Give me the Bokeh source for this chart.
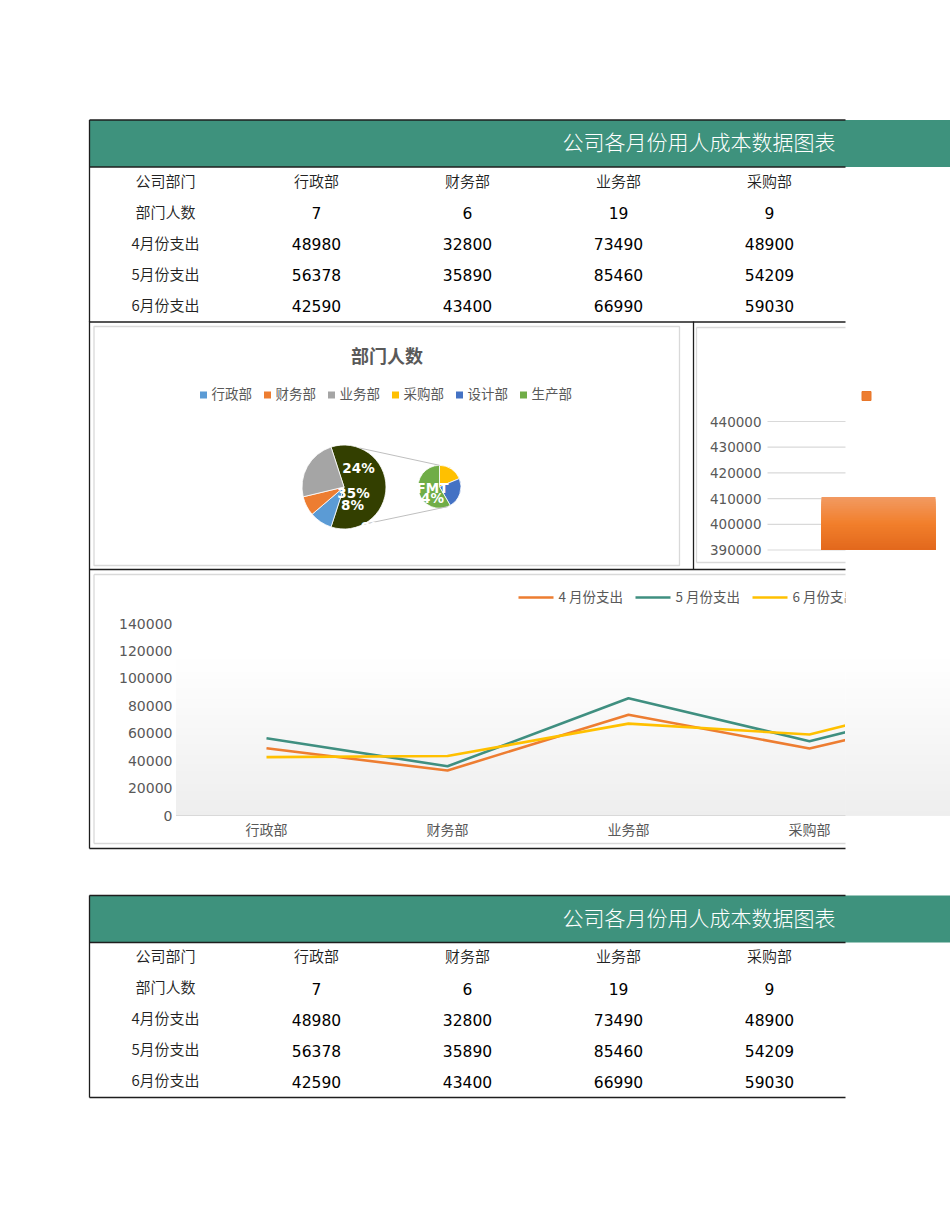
import numpy as np
from bokeh.plotting import figure
from bokeh.models import Range1d
from bokeh.core.properties import value
from bokeh.embed import file_html
from bokeh.resources import INLINE

# ---------------- data ----------------
title_text = "公司各月份用人成本数据图表"
corner_label = "公司部门"
row_labels = ["部门人数", "4月份支出", "5月份支出", "6月份支出"]
depts = ["行政部", "财务部", "业务部", "采购部", "设计部", "生产部"]
headcount = [7, 6, 19, 9, 11, 28]
exp_apr = [48980, 32800, 73490, 48900, 79800]
exp_may = [56378, 35890, 85460, 54209, 87100]
exp_jun = [42590, 43400, 66990, 59030, 92000]
series_names = ["4 月份支出", "5 月份支出", "6 月份支出"]
series_colors = ["#ED7D31", "#3F8F80", "#FFC000"]
line_ticks = [0, 20000, 40000, 60000, 80000, 100000, 120000, 140000]
bar_ticks = [390000, 400000, 410000, 420000, 430000, 440000]
bar_values = [410600]
pie_title = "部门人数"
pie_colors = ["#5B9BD5", "#ED7D31", "#A5A5A5", "#FFC000", "#4472C4", "#70AD47"]
other_color = "#333F00"
pie_label_texts = ["24%", "35%", "8%", "FMT", "4%", "9%"]
VISIBLE_COLS = 4
N_MAIN = 3

# ---------------- layout ----------------
W, H = 950, 1230
X0, X1, Y0, Y1 = 0, W, 0, H
CLIP = 845
LEFT = 89
TEAL = "#3E927D"
DARK = "#1E1E1E"
BOX = "#D9D9D9"
LABEL = "#595959"
CJK = value("Noto Sans CJK SC")
CJK_LIGHT = value("'Noto Sans CJK SC Light', 'Noto Sans CJK SC'")
CJK_DEMI = value("'Noto Sans CJK SC DemiLight', 'Noto Sans CJK SC'")
NUM = value("DejaVu Sans")
DY = -2  # CJK glyphs sit a little low with a middle baseline


def lin(v0, p0, v1, p1, pa, pb):
    k = (v1 - v0) / (p1 - p0)
    return Range1d(start=v0 + (pa - p0) * k, end=v0 + (pb - p0) * k)


def hex2rgb(c):
    c = c.lstrip("#")
    return np.array([int(c[i:i + 2], 16) for i in (0, 2, 4)], dtype=float)


def mix(c1, c2, t):
    a, b = hex2rgb(c1), hex2rgb(c2)
    r = a + (b - a) * t
    return "#%02x%02x%02x" % tuple(int(round(v)) for v in r)


p = figure(width=W, height=H, x_range=Range1d(X0, X1), y_range=Range1d(Y1, Y0),
           x_axis_type=None, y_axis_type=None, toolbar_location=None,
           output_backend="svg", min_border=0, outline_line_color=None)
p.grid.visible = False
p.background_fill_color = "white"
p.border_fill_color = "white"

p.extra_x_ranges = {
    "lx": lin(0, 266, 1, 447, X0, X1),
    "bx": lin(0, 878, 1, 1068, X0, X1),
}
p.extra_y_ranges = {
    "ly": lin(0, 815, 140000, 623, Y1, Y0),
    "by": lin(390000, 549.5, 440000, 421, Y1, Y0),
    "py": Range1d(-Y1, -Y0),
}


# ---------------- tables ----------------
def draw_table(top):
    p.quad(left=[LEFT], right=[X1], top=[top], bottom=[top + 47],
           fill_color=TEAL, line_color=None)
    p.text(x=[835], y=[top + 23 + DY], text=[title_text], text_align="right",
           text_baseline="middle", text_color="white", text_font=CJK_LIGHT,
           text_font_size="21px")
    xs = [165 + 151 * i for i in range(VISIBLE_COLS + 1)]
    header = [corner_label] + depts[:VISIBLE_COLS]
    p.text(x=xs, y=[top + 62 + DY] * len(xs), text=header, text_align="center",
           text_baseline="middle", text_color="#222222", text_font=CJK_DEMI,
           text_font_size="15px")
    rows = [headcount, exp_apr, exp_may, exp_jun]
    for r, (lab, vals) in enumerate(zip(row_labels, rows)):
        y = top + 93 + 31 * r
        p.text(x=[165], y=[y + DY], text=[lab], text_align="center",
               text_baseline="middle", text_color="#222222", text_font=CJK_DEMI,
               text_font_size="15px")
        p.text(x=xs[1:], y=[y] * VISIBLE_COLS,
               text=[str(v) for v in vals[:VISIBLE_COLS]], text_align="center",
               text_baseline="middle", text_color="#000000", text_font=NUM,
               text_font_size="15.5px")
    p.segment(x0=[LEFT, LEFT, LEFT], y0=[top, top + 47, top + 202],
              x1=[CLIP, CLIP, CLIP], y1=[top, top + 47, top + 202],
              line_color=DARK, line_width=1.3)
    p.segment(x0=[LEFT], y0=[top], x1=[LEFT], y1=[top + 202],
              line_color=DARK, line_width=1.3)


draw_table(119.5)
draw_table(895)

# ---------------- line chart ----------------
PLOT_L = 175.5
nb = 48
edges = np.linspace(line_ticks[0], line_ticks[-1], nb + 1)
gcols = [mix("#EEEEEE", "#FFFFFF", min(1.0, (i + 0.5) / nb * 1.2)) for i in range(nb)]
# overlapping bands painted top-down so no seams show
order = list(range(nb - 1, -1, -1))
band_top = [edges[i + 1] for i in order]
band_bot = [edges[0]] * nb
band_col = [gcols[i] for i in order]


def gradient(left, right):
    p.quad(left=[left] * nb, right=[right] * nb, bottom=band_bot, top=band_top,
           fill_color=band_col, line_color=None, y_range_name="ly")


gradient(PLOT_L, X1)

idx = list(range(len(exp_apr)))
for ser, col in zip([exp_apr, exp_may, exp_jun], series_colors):
    p.line(x=idx, y=ser, line_color=col, line_width=2.6, line_join="round",
           x_range_name="lx", y_range_name="ly")

# right edge of the printed sheet hides the rest of the lines
gradient(CLIP, X1)

p.segment(x0=[PLOT_L], y0=[0], x1=[CLIP], y1=[0], line_color=BOX,
          line_width=1.2, y_range_name="ly")
p.text(x=[172] * len(line_ticks), y=line_ticks, text=[str(t) for t in line_ticks],
       text_align="right", text_baseline="middle", text_color=LABEL,
       text_font=NUM, text_font_size="14px", y_range_name="ly")
p.text(x=list(range(VISIBLE_COLS)), y=[830 + DY] * VISIBLE_COLS,
       text=depts[:VISIBLE_COLS], text_align="center", text_baseline="middle",
       text_color=LABEL, text_font=CJK, text_font_size="14px", x_range_name="lx")

# legend of line chart
leg_x = [518, 635, 752]
p.segment(x0=leg_x, y0=[597] * 3, x1=[x + 35 for x in leg_x], y1=[597] * 3,
          line_color=series_colors, line_width=2.6)
p.text(x=[x + 40 for x in leg_x], y=[597 + DY] * 3, text=series_names,
       text_align="left", text_baseline="middle", text_color=LABEL,
       text_font=CJK, text_font_size="13.5px")
p.quad(left=[CLIP], right=[X1], top=[584], bottom=[612], fill_color="white",
       line_color=None)

# chart box
p.segment(x0=[93.5, 93.5, 93.5], y0=[574, 574, 843], x1=[CLIP, 93.5, CLIP],
          y1=[574, 843, 843], line_color=BOX, line_width=1.3)

# ---------------- bar chart ----------------
p.segment(x0=[767] * len(bar_ticks), y0=bar_ticks, x1=[CLIP] * len(bar_ticks),
          y1=bar_ticks, line_color=BOX, line_width=1.2, y_range_name="by")
p.text(x=[761] * len(bar_ticks), y=bar_ticks, text=[str(t) for t in bar_ticks],
       text_align="right", text_baseline="middle", text_color=LABEL,
       text_font=NUM, text_font_size="13.5px", y_range_name="by")
nbar = 30
bedges = np.linspace(bar_ticks[0], bar_values[0], nbar + 1)
bcols = []
for i in range(nbar):
    t = (i + 0.5) / nbar  # 0 bottom, 1 top
    if t < 0.5:
        bcols.append(mix("#E2681C", "#F27F2C", t / 0.5))
    else:
        bcols.append(mix("#F27F2C", "#F29A62", (t - 0.5) / 0.5))
border = list(range(nbar - 1, -1, -1))
p.quad(left=[-0.3] * nbar, right=[0.3] * nbar, bottom=[bedges[0]] * nbar,
       top=[bedges[i + 1] for i in border], fill_color=[bcols[i] for i in border],
       line_color=None, x_range_name="bx", y_range_name="by")
p.scatter(x=[866], y=[395.5], marker="square", size=9, fill_color="#ED7D31",
          line_color="#E8772A")
p.segment(x0=[696, 696, 696], y0=[327, 327, 562], x1=[CLIP, 696, CLIP],
          y1=[327, 562, 562], line_color=BOX, line_width=1.3)

# ---------------- pie of pie ----------------
p.quad(left=[93.5], right=[679], top=[326], bottom=[565], fill_color=None,
       line_color=BOX, line_width=1.3)
p.text(x=[386.5], y=[356 + DY], text=[pie_title], text_align="center",
       text_baseline="middle", text_color=LABEL, text_font=CJK,
       text_font_size="18px", text_font_style="bold")
leg_px = [203 + 64 * i for i in range(len(depts))]
p.scatter(x=leg_px, y=[394.5] * len(depts), marker="square", size=7,
          fill_color=pie_colors, line_color=None)
p.text(x=[x + 8 for x in leg_px], y=[394.5 + DY] * len(depts), text=depts,
       text_align="left", text_baseline="middle", text_color=LABEL,
       text_font=CJK, text_font_size="13.5px")

total = float(sum(headcount))
other = sum(headcount[N_MAIN:])
f_other = other / total
MCX, MCY, MR = 343.5, 486.5, 42
SCX, SCY, SR = 439, 486.3, 21.5

# main pie slices, clockwise from 12 o'clock (degrees)
main_cw = [(90 - f_other * 180, 90 + f_other * 180)]
main_cols = [other_color]
a = 90 + f_other * 180
for v, c in zip(headcount[:N_MAIN], pie_colors[:N_MAIN]):
    b = a + v / total * 360
    main_cw.append((a, b))
    main_cols.append(c)
    a = b
sec_cw = []
a = 0.0
for v in headcount[N_MAIN:]:
    b = a + v / other * 360
    sec_cw.append((a, b))
    a = b
sec_cols = pie_colors[N_MAIN:]


def cw2math(seg):
    return [np.radians(90 - s[1]) for s in seg], [np.radians(90 - s[0]) for s in seg]


ms, me = cw2math(main_cw)
p.wedge(x=[MCX] * len(ms), y=[-MCY] * len(ms), radius=MR, radius_units="screen",
        start_angle=ms, end_angle=me, direction="anticlock",
        fill_color=main_cols, line_color="white", line_width=0.8, y_range_name="py")
ss, se = cw2math(sec_cw)
p.wedge(x=[SCX] * len(ss), y=[-SCY] * len(ss), radius=SR, radius_units="screen",
        start_angle=ss, end_angle=se, direction="anticlock",
        fill_color=sec_cols, line_color="white", line_width=0.8, y_range_name="py")


def pt(cx, cy, r, ang):
    return cx + r * np.sin(np.radians(ang)), cy - r * np.cos(np.radians(ang))


u0 = pt(MCX, MCY, MR, 22)
u1 = pt(SCX, SCY, SR, 0)
l0 = pt(MCX, MCY, MR, 153)
l1 = pt(SCX, SCY, SR, 157)
p.segment(x0=[u0[0], l0[0]], y0=[u0[1], l0[1]], x1=[u1[0], l1[0]], y1=[u1[1], l1[1]],
          line_color="#BFBFBF", line_width=1)

lab_x = [358, 353, 352, 432, 432, 372]
lab_y = [467, 492, 504, 487, 497, 526]
p.text(x=lab_x, y=lab_y, text=pie_label_texts, text_align="center",
       text_baseline="middle", text_color="white", text_font=NUM,
       text_font_size="13.5px", text_font_style="bold")

# ---------------- frame lines of the sheet ----------------
p.segment(x0=[693, LEFT, LEFT, LEFT], y0=[321, 569, 848, 321],
          x1=[693, CLIP, CLIP, LEFT], y1=[569, 569, 848, 848],
          line_color=DARK, line_width=1.3)

open("out.html", "w").write(file_html(p, INLINE))
